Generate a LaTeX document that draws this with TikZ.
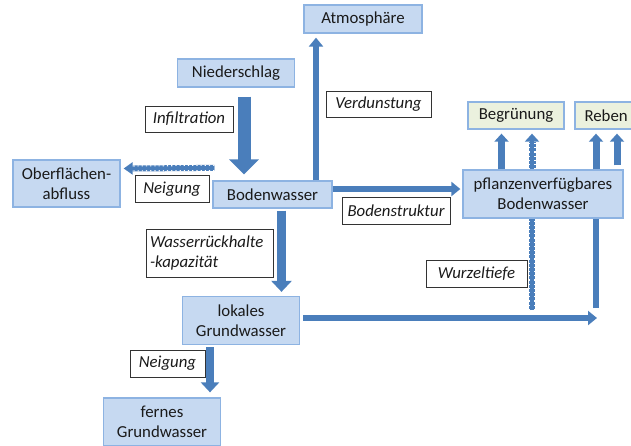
\documentclass[tikz,border=0pt]{standalone}
\usepackage{fontspec}
\setmainfont{Carlito}
\usetikzlibrary{arrows.meta}
\definecolor{bfill}{HTML}{C6D9F1}
\definecolor{bborder}{HTML}{8DB3E2}
\definecolor{gfill}{HTML}{EBF1DE}
\definecolor{ablue}{HTML}{4A7EBB}
\definecolor{txt}{HTML}{1A1A1A}
\tikzset{
  box/.style={draw=bborder, fill=bfill, line width=1.3pt, inner sep=0pt, align=center,
    font=\fontsize{16.8}{20}\selectfont, text=txt},
  gbox/.style={box, fill=gfill},
  lab/.style={draw=black!80, fill=white, line width=0.6pt, inner sep=0pt,
    font=\fontsize{16.8}{20}\selectfont\itshape, text=txt},
  flow/.style={draw=ablue, line width=6pt, -{Triangle[length=9pt,width=14pt]}},
  plainflow/.style={draw=ablue, line width=6pt},
  dashover/.style={draw=white, line width=6pt, dash pattern=on 1.2pt off 3pt},
  dashin/.style={draw=ablue, line width=3.8pt},
}
\begin{document}
\begin{tikzpicture}[x=1pt,y=-1pt]
\clip (0,0) rectangle (631,445);
\fill[white] (0,0) rectangle (631,445);

% boxes
\node[box, minimum width=118pt, minimum height=28pt] (atm) at (363,19) {Atmosphäre};
\node[box, minimum width=117pt, minimum height=28pt] (nied) at (236,73) {Niederschlag};
\node[box, minimum width=107pt, minimum height=47pt] (ober) at (66.5,183.5) {Oberflächen-\\abfluss};
\node[box, minimum width=119pt, minimum height=27pt] (boden) at (272.5,194.5) {Bodenwasser};
\node[box, minimum width=160pt, minimum height=48pt] (pfl) at (543,194) {pflanzenverfügbares\\Bodenwasser};
\node[gbox, minimum width=96pt, minimum height=27pt] (begr) at (516,115.5) {Begrünung};
\node[gbox, minimum height=27pt, text width=53pt, inner xsep=9.5pt, align=left] (reben) at (611,115.5) {Reben};
\node[box, minimum width=117pt, minimum height=48pt] (lok) at (241,320.5) {lokales\\Grundwasser};
\node[box, minimum width=117pt, minimum height=48pt] (fern) at (162,422) {fernes\\Grundwasser};

% labels
\node[lab, minimum width=88pt, minimum height=26pt] (infil) at (189,119) {Infiltration};
\node[lab, minimum width=105pt, minimum height=26pt] (verd) at (378.5,104) {Verdunstung};
\node[lab, minimum width=74pt, minimum height=27pt] (neig1) at (172,189) {Neigung};
\node[lab, minimum width=108pt, minimum height=27pt] (bstr) at (396,210.5) {Bodenstruktur};
\node[lab, minimum width=127pt, minimum height=48pt, align=left, text width=119pt] (wrk) at (209.5,253) {Wasserrückhalte\\-kapazität};
\node[lab, minimum width=101pt, minimum height=27pt] (wurz) at (476.5,273.5) {Wurzeltiefe};
\node[lab, minimum width=75pt, minimum height=27pt] (neig2) at (167.5,363.5) {Neigung};

% free ends
\coordinate (re) at (597,318);
\coordinate (wt1) at (532,310);
\coordinate (wt2) at (596,308);

% Niederschlag -> Bodenwasser (block arrow)
\draw[draw=ablue, line width=13pt, -{Triangle[length=15pt,width=29pt]}]
  ([xshift=8pt,yshift=-9pt]nied.south) -- ([xshift=-28.5pt,yshift=6pt]boden.north);
% Bodenwasser -> Atmosphaere
\draw[flow] ([xshift=43.5pt]boden.north) -- ([xshift=-47pt,yshift=-4pt]atm.south);
% Bodenwasser -> Oberflaechenabfluss (dashed)
\draw[plainflow] ([xshift=2pt,yshift=12.5pt]boden.north west) -- ([xshift=12pt,yshift=15pt]ober.east);
\draw[dashover] ([xshift=2pt,yshift=12.5pt]boden.north west) -- ([xshift=12pt,yshift=15pt]ober.east);
\draw[dashin, -{Triangle[length=9pt,width=12pt]}] ([xshift=2pt,yshift=12.5pt]boden.north west) -- ([xshift=3pt,yshift=15pt]ober.east);
% Bodenwasser -> pflanzenverfuegbares
\draw[flow] ([yshift=5.5pt]boden.east) -- ([xshift=-2pt,yshift=5pt]pfl.west);
% Bodenwasser -> lokales Grundwasser
\draw[draw=ablue, line width=9pt, -{Triangle[length=11pt,width=20pt]}]
  ([xshift=9pt,yshift=-2pt]boden.south) -- ([xshift=40.5pt,yshift=4pt]lok.north);
% lokales Grundwasser -> right
\draw[flow] ([xshift=3pt,yshift=2.5pt]lok.east) -- (re);
% lokales -> fernes
\draw[draw=ablue, line width=8pt, -{Triangle[length=10pt,width=18pt]}]
  ([xshift=-31pt,yshift=-2pt]lok.south) -- ([xshift=48pt,yshift=5pt]fern.north);
% vertical lines from below into pfl (Wurzeltiefe)
\draw[plainflow] (wt2) -- (pfl.south -| wt2);
\draw[plainflow] (wt1) -- (pfl.south -| wt1);
\draw[dashover] (wt1) -- (pfl.south -| wt1);
\draw[dashin] (wt1) -- (pfl.south -| wt1);
% arrows from pfl up to Begruenung / Reben
\draw[draw=ablue, line width=7pt, -{Triangle[length=8pt,width=14pt]}] ([xshift=-41.5pt]pfl.north) -- ([xshift=-14.5pt,yshift=-4pt]begr.south);
\draw[plainflow, line width=7pt] ([xshift=-11pt]pfl.north) -- ([xshift=16pt,yshift=-12pt]begr.south);
\draw[dashover, line width=7pt] ([xshift=-11pt]pfl.north) -- ([xshift=16pt,yshift=-12pt]begr.south);
\draw[dashin, line width=4.6pt, -{Triangle[length=8pt,width=14pt]}] ([xshift=-11pt]pfl.north) -- ([xshift=16pt,yshift=-4pt]begr.south);
\draw[draw=ablue, line width=7pt, -{Triangle[length=8pt,width=14pt]}] ([xshift=53pt]pfl.north) -- ([xshift=-15pt,yshift=-4pt]reben.south);
\draw[draw=ablue, line width=7pt, -{Triangle[length=8pt,width=14pt]}] ([xshift=74pt,yshift=4pt]pfl.north) -- ([xshift=6pt,yshift=-4pt]reben.south);
\end{tikzpicture}
\end{document}
